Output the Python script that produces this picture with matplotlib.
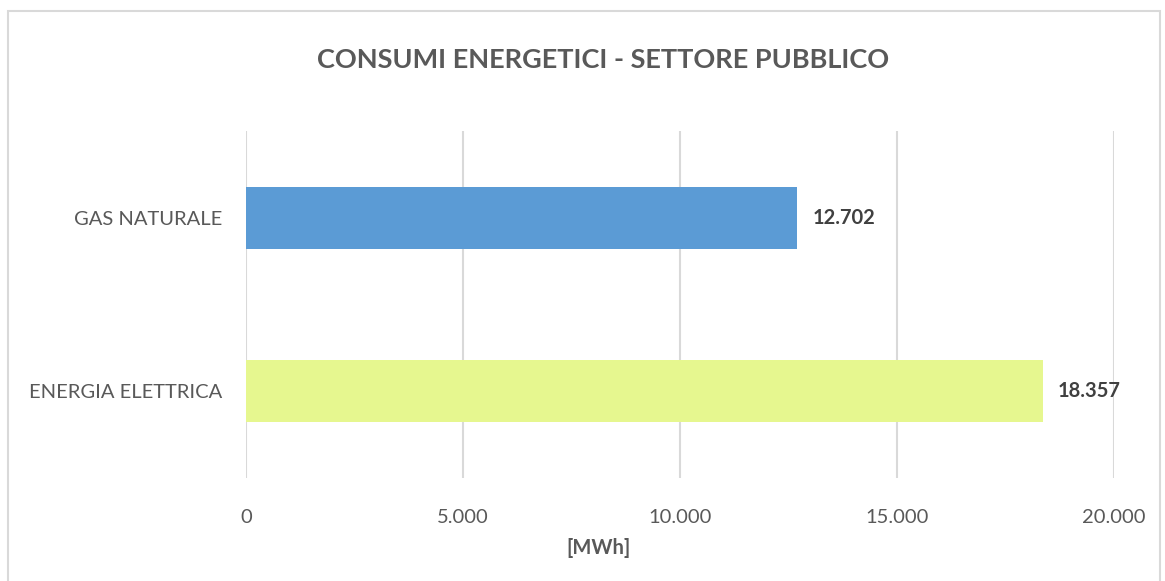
import matplotlib.pyplot as plt
from matplotlib.patches import Rectangle

# dati
categorie = ["ENERGIA ELETTRICA", "GAS NATURALE"]
consumi = [18357, 12702]
colori = ["#E6F78F", "#5B9BD5"]
x_ticks = [0, 5000, 10000, 15000, 20000]

plt.rcParams["font.family"] = ["Lato", "DejaVu Sans"]


def fmt_it(v):
    return f"{v:,.0f}".replace(",", ".")


W, H = 1165, 581
fig = plt.figure(figsize=(W / 100, H / 100), dpi=100)
ax = fig.add_axes([246 / W, 1 - 478 / H, (1114 - 246) / W, (478 - 131) / H])

ypos = list(range(len(categorie)))
ax.barh(ypos, consumi, height=0.355, color=colori, zorder=3)
for y, v in zip(ypos, consumi):
    ax.text(v + 350, y, fmt_it(v), va="center", ha="left",
            fontsize=14.5, fontweight="bold", color="#404040")

ax.set_xlim(0, 20000)
ax.set_ylim(-0.5, 1.5)
ax.set_xticks(x_ticks)
ax.set_xticklabels([fmt_it(t) for t in x_ticks])
ax.set_yticks(ypos)
ax.set_yticklabels(categorie)
ax.tick_params(axis="both", length=0, labelsize=14.5, colors="#595959")
ax.tick_params(axis="x", pad=22)
ax.tick_params(axis="y", pad=17)
ax.grid(axis="x", color="#D9D9D9", linewidth=1.5, zorder=0)
for s in ax.spines.values():
    s.set_visible(False)

fig.text(603 / W, 1 - 60 / H, "CONSUMI ENERGETICI - SETTORE PUBBLICO",
         ha="center", va="center", fontsize=19.5, fontweight="bold", color="#595959")
fig.text(598 / W, 1 - 548 / H, "[MWh]", ha="center", va="center",
         fontsize=14.5, fontweight="bold", color="#595959")

fig.patches.append(Rectangle((8 / W, -0.05), (1160 - 8) / W, 1 - 11 / H + 0.05,
                             transform=fig.transFigure, fill=False,
                             edgecolor="#D9D9D9", linewidth=1.5))

fig.savefig("out.png", dpi=100)
